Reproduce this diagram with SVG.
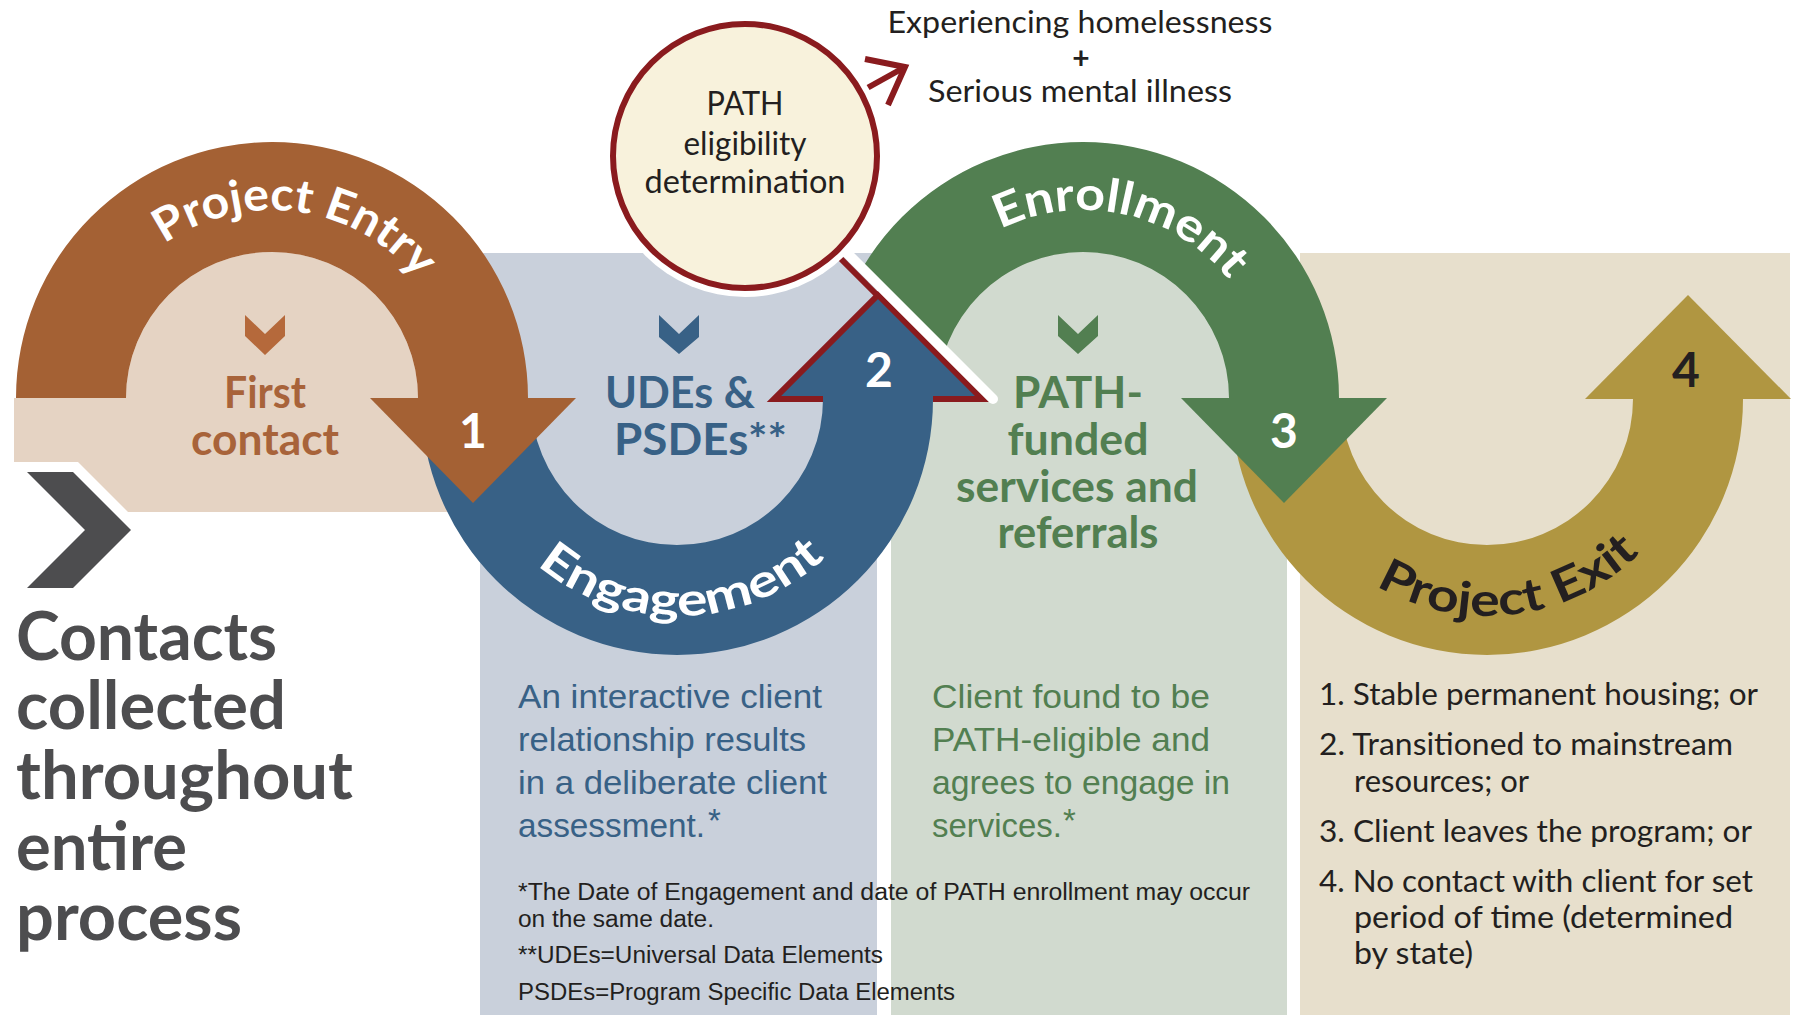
<svg xmlns="http://www.w3.org/2000/svg" width="1793" height="1015" viewBox="0 0 1793 1015">
<defs>
<style>
.hd{font-family:Lato,'Open Sans','Liberation Sans',sans-serif;font-weight:700}
.arc{font-family:Lato,'Open Sans','Liberation Sans',sans-serif;font-size:46px;font-weight:700;text-anchor:middle}
.num{font-family:Lato,'Liberation Sans',sans-serif;font-size:48px;font-weight:700;text-anchor:middle}
.lbl{font-family:Lato,'Liberation Sans',sans-serif;font-size:44px;font-weight:700}
.mid{text-anchor:middle}
.desc{font-family:'Liberation Sans',Arial,sans-serif;font-size:33px}
.foot{font-family:'Liberation Sans',Arial,sans-serif;font-size:23px;fill:#231f20}
.list{font-family:Lato,'Liberation Sans',sans-serif;font-size:30px;fill:#231f20}
.top{font-family:Lato,'Liberation Sans',sans-serif;font-size:30px;fill:#231f20;text-anchor:middle}
.circ{font-family:Lato,'Liberation Sans',sans-serif;font-size:32px;fill:#231f20;text-anchor:middle}
.red{stroke:#8a1b1e;fill:none}
</style>
<path id="pEntry" d="M 84 398 A 188 188 0 0 1 460 398"/>
<path id="pEnroll" d="M 895 398 A 188 188 0 0 1 1271 398"/>
<path id="pEngage" d="M 460 399 A 217 217 0 0 0 894 399"/>
<path id="pExit" d="M 1270 399 A 217 217 0 0 0 1704 399"/>
<clipPath id="clipGreen"><polygon points="640,46 1460,866 1460,0 640,0"/></clipPath>
</defs>

<rect x="0" y="0" width="1793" height="1015" fill="#ffffff"/>

<g id="panels">
  <polygon points="14,398 480,398 480,512 128,512 78,462 14,462" fill="#e5d3c3"/>
  <path d="M 126 398 A 146 146 0 0 1 418 398 Z" fill="#e5d3c3"/>
  <rect x="480" y="253" width="397" height="762" fill="#c9d0db"/>
  <rect x="891" y="253" width="396" height="762" fill="#d1dacf"/>
  <path d="M 937 398 A 146 146 0 0 1 1229 398 Z" fill="#d1dacf"/>
  <rect x="1300" y="253" width="490" height="762" fill="#e7dfcc"/>
</g>

<g id="stage-engagement">
  <path d="M 421 399 A 256 256 0 0 0 933 399 L 823 399 A 146 146 0 0 1 531 399 Z" fill="#386186"/>
</g>

<g id="stage-entry">
  <path d="M 16 398 A 256 256 0 0 1 528 398 L 418 398 A 146 146 0 0 0 126 398 Z" fill="#a46134"/>
  <polygon points="370,398 576,398 473,503" fill="#a46134"/>
</g>

<g id="stage-exit">
  <path d="M 1231 399 A 256 256 0 0 0 1743 399 L 1633 399 A 146 146 0 0 1 1341 399 Z" fill="#b09641"/>
  <polygon points="1585,399 1791,399 1688,295" fill="#b09641"/>
</g>

<g id="stage-enrollment">
  <path clip-path="url(#clipGreen)" d="M 827 398 A 256 256 0 0 1 1339 398 L 1229 398 A 146 146 0 0 0 937 398 Z" fill="#527f51"/>
  <polygon points="1181,398 1387,398 1284,503" fill="#527f51"/>
</g>

<g id="arrow-2">
  <polygon points="774,399 878,295 982,399" fill="#386186"/>
  <path class="red" stroke-width="6" stroke-linejoin="miter" d="M 823 399 L 774 399 L 878 295 L 982 399 L 933 399"/>
</g>

<g id="connectors">
  <line x1="842" y1="248" x2="993" y2="399" stroke="#ffffff" stroke-width="10" stroke-linecap="round"/>
  <line class="red" x1="835" y1="253" x2="878" y2="296" stroke-width="6"/>
  <path class="red" stroke-width="6" d="M 860 92 L 905 67"/>
  <path class="red" stroke-width="6" stroke-linejoin="miter" d="M 865 59 L 905 67 L 888 105"/>
</g>

<g id="eligibility">
  <circle cx="745" cy="156" r="141" fill="#ffffff"/>
  <circle cx="745" cy="156" r="132" fill="#f8f2dc" stroke="#8a1b1e" stroke-width="6"/>
  <text class="circ" x="745" y="115" textLength="77" lengthAdjust="spacingAndGlyphs">PATH</text>
  <text class="circ" x="745" y="155" textLength="123" lengthAdjust="spacingAndGlyphs">eligibility</text>
  <text class="circ" x="745" y="193" textLength="201" lengthAdjust="spacingAndGlyphs">determination</text>
</g>

<g id="criteria">
  <text class="top" x="1080" y="33" textLength="385" lengthAdjust="spacingAndGlyphs">Experiencing homelessness</text>
  <text class="top" x="1081" y="69" font-weight="700" font-size="26">+</text>
  <text class="top" x="1080" y="102" textLength="304" lengthAdjust="spacingAndGlyphs">Serious mental illness</text>
</g>

<g id="arc-labels">
  <text class="arc" fill="#ffffff"><textPath href="#pEntry" startOffset="321" textLength="281" lengthAdjust="spacingAndGlyphs">Project Entry</textPath></text>
  <text class="arc" fill="#ffffff"><textPath href="#pEnroll" startOffset="336" textLength="253" lengthAdjust="spacingAndGlyphs">Enrollment</textPath></text>
  <text class="arc" fill="#ffffff"><textPath href="#pEngage" startOffset="346" textLength="315" lengthAdjust="spacingAndGlyphs">Engagement</textPath></text>
  <text class="arc" fill="#231f20"><textPath href="#pExit" startOffset="367" textLength="286" lengthAdjust="spacingAndGlyphs">Project Exit</textPath></text>
</g>

<g id="numbers">
  <text class="num" x="473" y="448" fill="#ffffff">1</text>
  <text class="num" x="879" y="387" fill="#ffffff">2</text>
  <text class="num" x="1284" y="448" fill="#ffffff">3</text>
  <text class="num" x="1686" y="387" fill="#231f20">4</text>
</g>

<g id="first-contact">
  <polygon points="245,315 265,334 285,315 285,336 265,355 245,336" fill="#b5693b"/>
  <text class="lbl mid" x="265" y="408" fill="#a8633a" textLength="82" lengthAdjust="spacingAndGlyphs">First</text>
  <text class="lbl mid" x="265" y="455" fill="#a8633a" textLength="148" lengthAdjust="spacingAndGlyphs">contact</text>
</g>

<g id="udes">
  <polygon points="659,315 679,334 699,315 699,337 679,354 659,337" fill="#386186"/>
  <text class="lbl" x="605" y="408" fill="#386186" textLength="150" lengthAdjust="spacingAndGlyphs">UDEs &amp;</text>
  <text class="lbl" x="614" y="455" fill="#386186" textLength="173" lengthAdjust="spacingAndGlyphs">PSDEs**</text>
</g>

<g id="path-funded">
  <polygon points="1058,315 1078,334 1098,315 1098,336 1078,354 1058,336" fill="#527f51"/>
  <text class="lbl mid" x="1078" y="408" fill="#527f51" textLength="130" lengthAdjust="spacingAndGlyphs">PATH-</text>
  <text class="lbl mid" x="1078" y="455" fill="#527f51" textLength="141" lengthAdjust="spacingAndGlyphs">funded</text>
  <text class="lbl mid" x="1077" y="502" fill="#527f51" textLength="242" lengthAdjust="spacingAndGlyphs">services and</text>
  <text class="lbl mid" x="1078" y="548" fill="#527f51" textLength="161" lengthAdjust="spacingAndGlyphs">referrals</text>
</g>

<g id="contacts">
  <polygon points="27,472 73,472 131,530 73,588 27,588 85,530" fill="#4d4d4f"/>
  <text class="hd" x="16" y="660" font-size="66" fill="#4d4d4f" textLength="261" lengthAdjust="spacingAndGlyphs">Contacts</text>
  <text class="hd" x="16" y="729" font-size="66" fill="#4d4d4f" textLength="270" lengthAdjust="spacingAndGlyphs">collected</text>
  <text class="hd" x="16" y="799" font-size="66" fill="#4d4d4f" textLength="337" lengthAdjust="spacingAndGlyphs">throughout</text>
  <text class="hd" x="16" y="870" font-size="66" fill="#4d4d4f" textLength="171" lengthAdjust="spacingAndGlyphs">entire</text>
  <text class="hd" x="16" y="940" font-size="66" fill="#4d4d4f" textLength="226" lengthAdjust="spacingAndGlyphs">process</text>
</g>

<g id="engagement-desc" fill="#386186">
  <text class="desc" x="518" y="708" textLength="304" lengthAdjust="spacingAndGlyphs">An interactive client</text>
  <text class="desc" x="518" y="751" textLength="288" lengthAdjust="spacingAndGlyphs">relationship results</text>
  <text class="desc" x="518" y="794" textLength="309" lengthAdjust="spacingAndGlyphs">in a deliberate client</text>
  <text class="desc" x="518" y="837" textLength="187" lengthAdjust="spacingAndGlyphs">assessment.</text>
  <text class="desc" x="708" y="832" font-size="24">*</text>
</g>

<g id="enrollment-desc" fill="#527f51">
  <text class="desc" x="932" y="708" textLength="278" lengthAdjust="spacingAndGlyphs">Client found to be</text>
  <text class="desc" x="932" y="751" textLength="278" lengthAdjust="spacingAndGlyphs">PATH-eligible and</text>
  <text class="desc" x="932" y="794" textLength="298" lengthAdjust="spacingAndGlyphs">agrees to engage in</text>
  <text class="desc" x="932" y="837" textLength="130" lengthAdjust="spacingAndGlyphs">services.</text>
  <text class="desc" x="1063" y="832" font-size="24">*</text>
</g>

<g id="footnotes">
  <text class="foot" x="518" y="900" textLength="732" lengthAdjust="spacingAndGlyphs">*The Date of Engagement and date of PATH enrollment may occur</text>
  <text class="foot" x="518" y="927" textLength="196" lengthAdjust="spacingAndGlyphs">on the same date.</text>
  <text class="foot" x="518" y="963" textLength="365" lengthAdjust="spacingAndGlyphs">**UDEs=Universal Data Elements</text>
  <text class="foot" x="518" y="1000" textLength="437" lengthAdjust="spacingAndGlyphs">PSDEs=Program Specific Data Elements</text>
</g>

<g id="exit-list">
  <text class="list" x="1319" y="705" textLength="439" lengthAdjust="spacingAndGlyphs">1. Stable permanent housing; or</text>
  <text class="list" x="1319" y="755" textLength="414" lengthAdjust="spacingAndGlyphs">2. Transitioned to mainstream</text>
  <text class="list" x="1354" y="792" textLength="175" lengthAdjust="spacingAndGlyphs">resources; or</text>
  <text class="list" x="1319" y="842" textLength="433" lengthAdjust="spacingAndGlyphs">3. Client leaves the program; or</text>
  <text class="list" x="1319" y="892" textLength="434" lengthAdjust="spacingAndGlyphs">4. No contact with client for set</text>
  <text class="list" x="1354" y="928" textLength="379" lengthAdjust="spacingAndGlyphs">period of time (determined</text>
  <text class="list" x="1354" y="964" textLength="119" lengthAdjust="spacingAndGlyphs">by state)</text>
</g>
</svg>
